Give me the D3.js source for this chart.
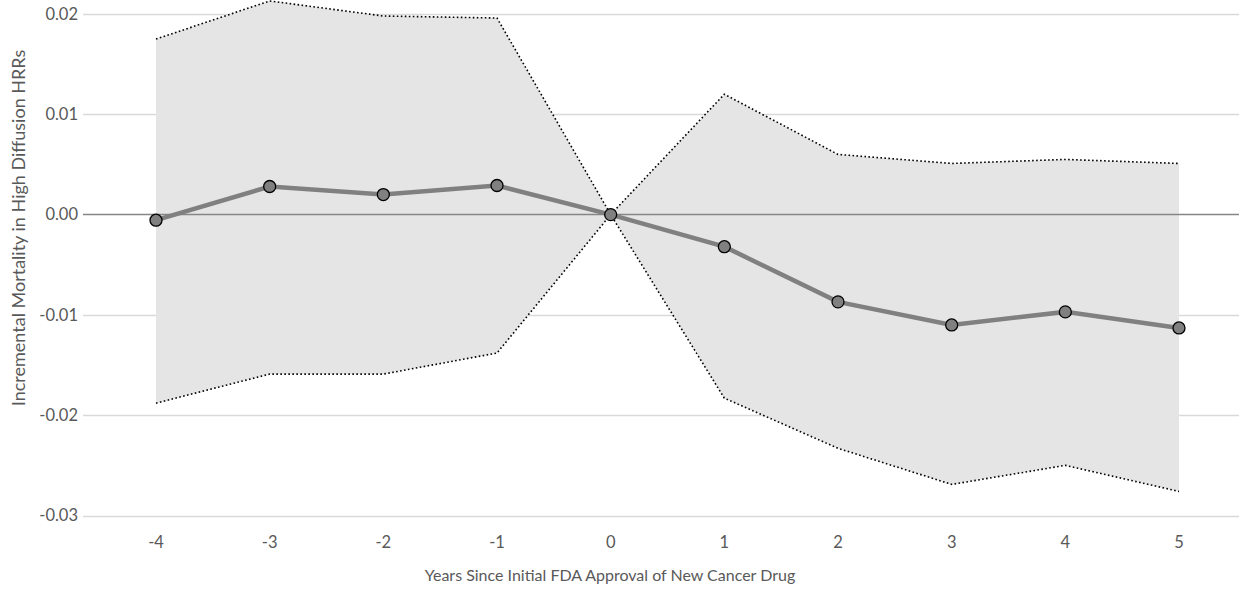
<!DOCTYPE html>
<html>
<head>
<meta charset="utf-8">
<script src="https://cdn.jsdelivr.net/npm/d3@7"></script>
<style>
    body { margin: 0; background: #fff; }
    svg text { font-family: Lato, "Open Sans", sans-serif; fill: #595959; }
</style>
</head>
<body>
<svg id="chart" width="1239" height="590"></svg>
<script>
// Years relative to approval
const years = [-4, -3, -2, -1, 0, 1, 2, 3, 4, 5];
// Point estimates and 95% CI bounds
const estimate = [-0.00056, 0.0028, 0.0020, 0.0029, 0, -0.0032, -0.0087, -0.0110, -0.0097, -0.0113];
const upper = [0.0175, 0.0213, 0.0198, 0.0196, 0, 0.0120, 0.0060, 0.0051, 0.0055, 0.0051];
const lower = [-0.0188, -0.0159, -0.0159, -0.0138, 0, -0.0183, -0.0233, -0.0269, -0.0250, -0.0276];
const yTicks = [0.02, 0.01, 0.00, -0.01, -0.02, -0.03];

const svg = d3.select('#chart');
const gridLeft = 83, gridRight = 1239;

const x = d3.scalePoint().domain(years).range([156, 1179]);
const y = d3.scaleLinear().domain([-0.03, 0.02]).range([515.5, 14]);

const rows = years.map((yr, i) => ({yr: yr, est: estimate[i], hi: upper[i], lo: lower[i]}));

// Gridlines
svg.append('g')
    .selectAll('line')
    .data(yTicks.filter(t => t !== 0))
    .enter()
    .append('line')
    .attr('x1', gridLeft)
    .attr('x2', gridRight)
    .attr('y1', d => Math.round(y(d)) + 0.5)
    .attr('y2', d => Math.round(y(d)) + 0.5)
    .style('stroke', '#d9d9d9')
    .style('stroke-width', 1.3);

// Confidence band
svg.append('path')
    .datum(rows)
    .attr('d', d3.area().x(d => x(d.yr)).y0(d => y(d.lo)).y1(d => y(d.hi)))
    .style('fill', '#e5e5e5');

// Zero line
svg.append('line')
    .attr('x1', gridLeft)
    .attr('x2', gridRight)
    .attr('y1', y(0))
    .attr('y2', y(0))
    .style('stroke', '#868686')
    .style('stroke-width', 1.5);

// Dotted bounds
[d => d.hi, d => d.lo].forEach(acc => {
    svg.append('path')
        .datum(rows)
        .attr('d', d3.line().x(d => x(d.yr)).y(d => y(acc(d))))
        .style('fill', 'none')
        .style('stroke', '#000')
        .style('stroke-width', 1.6)
        .style('stroke-dasharray', '1.6,2.4');
});

// Estimate line and markers
svg.append('path')
    .datum(rows)
    .attr('d', d3.line().x(d => x(d.yr)).y(d => y(d.est)))
    .style('fill', 'none')
    .style('stroke', '#808080')
    .style('stroke-width', 4.5);

svg.append('g')
    .selectAll('circle')
    .data(rows)
    .enter()
    .append('circle')
    .attr('cx', d => x(d.yr))
    .attr('cy', d => y(d.est))
    .attr('r', 6)
    .style('fill', '#808080')
    .style('stroke', '#000')
    .style('stroke-width', 1.3);

// Y tick labels
svg.append('g')
    .selectAll('text')
    .data(yTicks)
    .enter()
    .append('text')
    .attr('x', 78)
    .attr('y', d => y(d))
    .attr('dy', '0.35em')
    .attr('text-anchor', 'end')
    .style('font-size', '16.5px')
    .text(d => d3.format('.2f')(d).replace('−', '-'));

// X tick labels
svg.append('g')
    .selectAll('text')
    .data(years)
    .enter()
    .append('text')
    .attr('x', d => x(d))
    .attr('y', 542)
    .attr('dy', '0.35em')
    .attr('text-anchor', 'middle')
    .style('font-size', '16.5px')
    .text(d => String(d));

// Axis titles
svg.append('text')
    .attr('x', 610)
    .attr('y', 575)
    .attr('dy', '0.35em')
    .attr('text-anchor', 'middle')
    .style('font-size', '16px')
    .text('Years Since Initial FDA Approval of New Cancer Drug');

svg.append('text')
    .attr('transform', `translate(${19}, ${228}) rotate(-90)`)
    .attr('dy', '0.35em')
    .attr('text-anchor', 'middle')
    .style('font-size', '18px')
    .text('Incremental Mortality in High Diffusion HRRs');
</script>
</body>
</html>
